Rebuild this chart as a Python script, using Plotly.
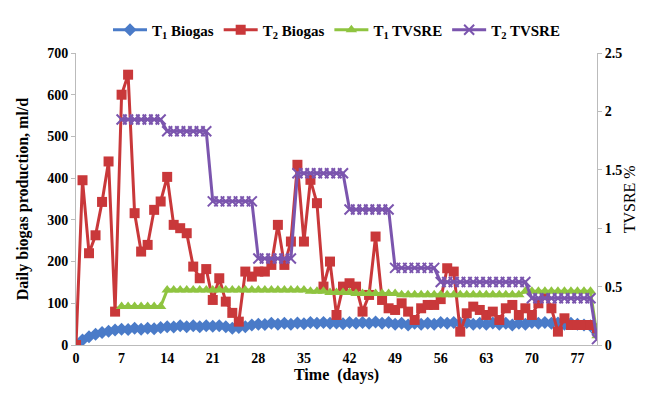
import plotly.graph_objects as go

days = list(range(0, 81))
xtick_vals = [0, 7, 14, 21, 28, 35, 42, 49, 56, 63, 70, 77]

t1_biogas = [0, 12, 20, 26, 30, 33, 36, 38, 37, 40, 38, 40, 39, 42, 44, 43, 46, 44, 46, 44,
             46, 45, 46, 44, 40, 42, 44, 48, 50, 49, 52, 50, 52, 50, 53, 51, 54, 52, 54, 52,
             53, 51, 54, 52, 54, 52, 55, 52, 54, 50, 52, 48, 52, 50, 52, 50, 54, 52, 54, 52,
             54, 50, 52, 50, 53, 50, 52, 48, 52, 50, 54, 52, 54, 52, 53, 50, 52, 50, 48, 46, 30]

t2_biogas = [0, 395, 220, 263, 343, 440, 80, 600, 648, 316, 224, 240, 324, 344, 403, 288, 280, 268, 188, 160,
             182, 108, 160, 104, 77, 56, 176, 164, 176, 176, 192, 288, 192, 248, 432, 248, 396, 340, 140, 200,
             72, 140, 148, 140, 80, 120, 260, 108, 88, 84, 100, 80, 60, 88, 96, 96, 110, 184, 176, 32,
             76, 92, 84, 72, 80, 60, 88, 96, 72, 88, 72, 100, 120, 88, 32, 64, 48, 48, 48, 48, 40]

t1_tvsre = ([None] * 7 + [0.33] * 7 + [0.47] * 22 +
            [0.46, 0.46, 0.46, 0.45, 0.45, 0.45, 0.45, 0.44, 0.44, 0.44, 0.44, 0.44, 0.44, 0.44] +
            [0.43] * 19 + [0.46] * 11 + [0.08])

t2_tvsre = ([None] * 7 + [1.93] * 7 + [1.83] * 7 + [1.23] * 7 + [0.74] * 6 + [1.47] * 8 +
            [1.16] * 7 + [0.66] * 7 + [0.54] * 14 + [0.40] * 10 + [0.05])

BLUE = "#4A7BC8"
RED = "#C9383A"
GREEN = "#8FC440"
PURPLE = "#7B55AE"
FONT = "Liberation Serif"

fig = go.Figure()
fig.add_trace(go.Scatter(x=days, y=t1_biogas, name="T<sub>1</sub> Biogas", mode="lines+markers",
                         line=dict(color=BLUE, width=3),
                         marker=dict(symbol="diamond", size=10, color=BLUE)))
fig.add_trace(go.Scatter(x=days, y=t2_biogas, name="T<sub>2</sub> Biogas", mode="lines+markers",
                         line=dict(color=RED, width=3),
                         marker=dict(symbol="square", size=10, color=RED)))
fig.add_trace(go.Scatter(x=days, y=t1_tvsre, name="T<sub>1</sub> TVSRE", mode="lines+markers",
                         yaxis="y2", line=dict(color=GREEN, width=3),
                         marker=dict(symbol="triangle-up", size=10, color=GREEN)))
fig.add_trace(go.Scatter(x=days, y=t2_tvsre, name="T<sub>2</sub> TVSRE", mode="lines+markers",
                         yaxis="y2", line=dict(color=PURPLE, width=3),
                         marker=dict(symbol="x-thin", size=10, color=PURPLE,
                                     line=dict(color=PURPLE, width=2))))

fig.update_layout(
    width=631, height=381,
    margin=dict(l=68, r=42, t=45, b=44, autoexpand=False),
    paper_bgcolor="white", plot_bgcolor="white",
    font=dict(family=FONT, size=14, color="black"),
    showlegend=True,
    legend=dict(orientation="h", x=0.5, xanchor="center", y=1.079, yanchor="middle",
                font=dict(family=FONT, size=15, color="black", weight="bold"),
                itemwidth=34, tracegroupgap=0),
    xaxis=dict(range=[0, 80], tickvals=xtick_vals, showgrid=False, zeroline=False,
               automargin=False,
               showline=True, linecolor="#BBBBBB", linewidth=1, ticks="",
               tickfont=dict(family=FONT, size=14, weight="bold"),
               title=dict(text="Time  (days)", font=dict(family=FONT, size=16, weight="bold"), standoff=2)),
    yaxis=dict(range=[0, 700], dtick=100, showgrid=False, zeroline=False, automargin=False,
               showline=True, linecolor="#BBBBBB", linewidth=1, ticks="outside", ticklen=4,
               tickcolor="#BBBBBB",
               tickfont=dict(family=FONT, size=14, weight="bold"),
               title=dict(text="Daily biogas production, ml/d",
                          font=dict(family=FONT, size=16, weight="bold"), standoff=14)),
    yaxis2=dict(range=[0, 2.5], dtick=0.5, overlaying="y", side="right", showgrid=False,
                zeroline=False, showline=True, linecolor="#BBBBBB", linewidth=1, automargin=False,
                ticks="outside", ticklen=4, tickcolor="#BBBBBB",
                tickfont=dict(family=FONT, size=14, weight="bold")),
    annotations=[dict(text="TVSRE %", textangle=-90, xref="paper", yref="paper",
                      x=1.062, y=0.5, xanchor="center", yanchor="middle", showarrow=False,
                      font=dict(family=FONT, size=16, color="black"))],
)

fig.write_html("out.html")
